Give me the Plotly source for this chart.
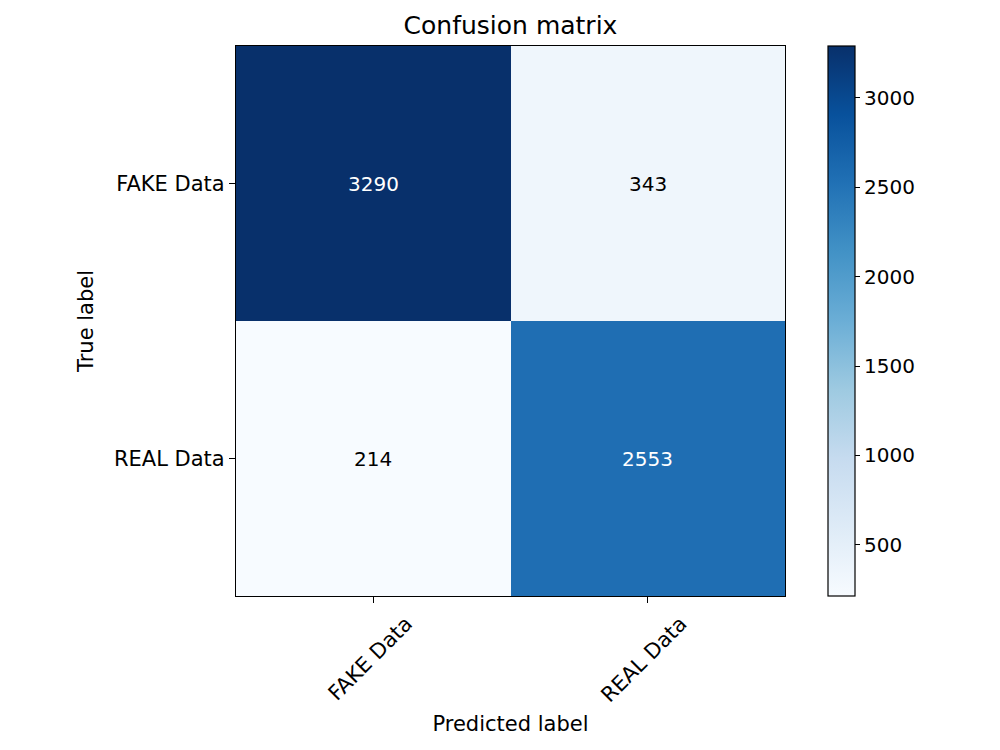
import plotly.graph_objects as go

classes = ["FAKE Data", "REAL Data"]
cm = [[3290, 343],
      [214, 2553]]

zmin = min(min(r) for r in cm)
zmax = max(max(r) for r in cm)
thresh = zmax / 2.0

FS = 21
fig = go.Figure()
fig.add_trace(go.Heatmap(
    z=cm, x=classes, y=classes,
    colorscale="Blues", zmin=zmin, zmax=zmax,
    xgap=0, ygap=0,
    colorbar=dict(
        x=(828 - 236) / 549, xanchor="left", xref="paper",
        y=0.5, yanchor="middle", len=1.0, lenmode="fraction",
        xpad=0, ypad=0,
        thickness=27, thicknessmode="pixels",
        outlinecolor="black", outlinewidth=1.2,
        tickvals=[500, 1000, 1500, 2000, 2500, 3000],
        ticks="outside", ticklen=5, tickcolor="black",
        tickfont=dict(family="DejaVu Sans", size=FS - 1, color="black"),
    ),
    hoverinfo="skip",
))

annotations = []
for i, row in enumerate(cm):
    for j, v in enumerate(row):
        annotations.append(dict(
            x=classes[j], y=classes[i], text=str(v), showarrow=False,
            font=dict(family="DejaVu Sans", size=FS - 1,
                      color="white" if v > thresh else "black"),
        ))

axis_common = dict(
    showline=True, mirror=True, linecolor="black", linewidth=1.2,
    ticks="outside", ticklen=6, tickcolor="black", showgrid=False, zeroline=False,
    tickfont=dict(family="DejaVu Sans", size=FS, color="black"),
)

fig.update_layout(
    width=1000, height=750,
    margin=dict(l=236, r=215, t=46, b=154),
    paper_bgcolor="white", plot_bgcolor="white",
    title=dict(text="Confusion matrix", x=(236 + 785) / 2 / 1000, xanchor="center",
               y=1 - 25 / 750, yanchor="middle",
               font=dict(family="DejaVu Sans", size=25, color="black")),
    xaxis=dict(**axis_common, tickangle=-45, ticklabelshift=33,
               title=dict(text="Predicted label", standoff=10,
                          font=dict(family="DejaVu Sans", size=FS, color="black"))),
    yaxis=dict(**axis_common, autorange="reversed",
               title=dict(text="True label", standoff=14,
                          font=dict(family="DejaVu Sans", size=FS, color="black"))),
    annotations=annotations,
)

fig.write_html("out.html")
